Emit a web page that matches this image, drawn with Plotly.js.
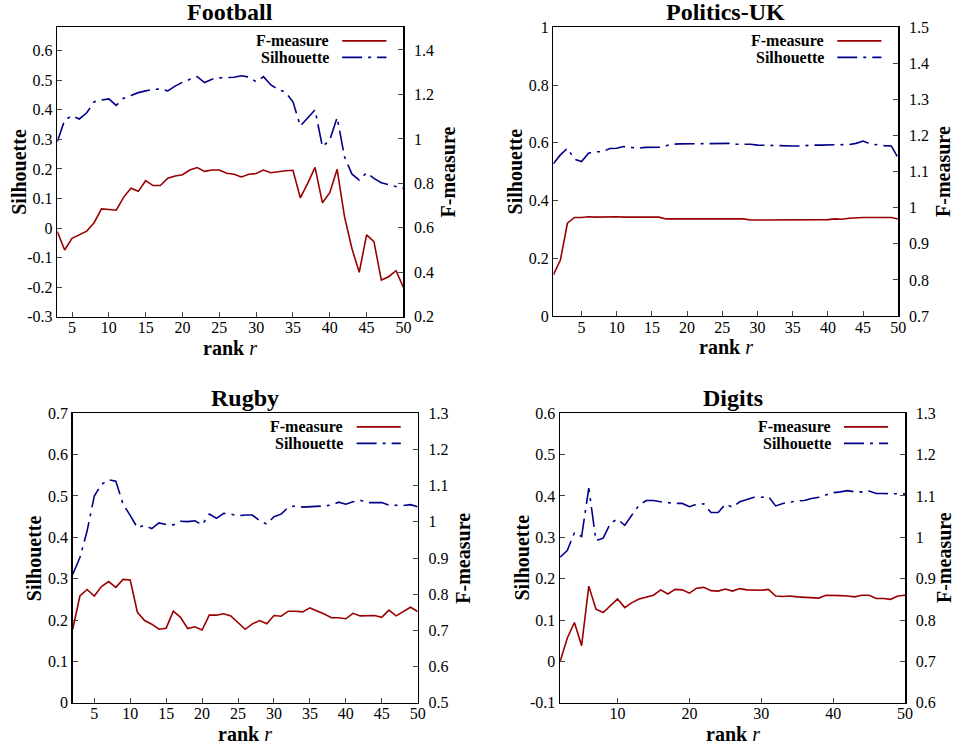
<!DOCTYPE html>
<html>
<head>
<meta charset="utf-8">
<script src="https://cdn.plot.ly/plotly-3.0.1.min.js"></script>
<style>html,body{margin:0;padding:0;background:#fff;}#chart{width:958px;height:744px;}</style>
</head>
<body>
<div id="chart"></div>
<script>
// ---------------- DATA ----------------
const panelTitles = ['Football', 'Politics-UK', 'Rugby', 'Digits'];
const seriesNames = ['F-measure', 'Silhouette'];
const axisTitles = {x: 'rank', xVar: 'r', left: 'Silhouette', right: 'F-measure'};

const footballRank = [3,4,5,6,7,8,9,10,11,12,13,14,15,16,17,18,19,20,21,22,23,24,25,26,27,28,29,30,31,32,33,34,35,36,37,38,39,40,41,42,43,44,45,46,47,48,49,50];
const footballF = [0.583,0.500,0.553,0.570,0.585,0.623,0.685,0.682,0.679,0.737,0.778,0.764,0.812,0.790,0.790,0.823,0.833,0.839,0.860,0.871,0.854,0.860,0.860,0.845,0.841,0.829,0.841,0.844,0.860,0.848,0.854,0.857,0.859,0.735,0.800,0.872,0.713,0.758,0.863,0.650,0.508,0.400,0.568,0.538,0.365,0.380,0.407,0.332];
const footballSil = [0.292,0.365,0.380,0.369,0.390,0.427,0.433,0.437,0.415,0.439,0.448,0.458,0.464,0.469,0.470,0.464,0.480,0.493,0.503,0.512,0.492,0.503,0.508,0.508,0.510,0.515,0.511,0.495,0.512,0.484,0.469,0.459,0.427,0.345,0.374,0.400,0.275,0.298,0.374,0.241,0.183,0.162,0.187,0.168,0.153,0.146,0.140,0.134];

const politicsRank = [1,2,3,4,5,6,7,8,9,10,11,12,13,14,15,16,17,18,19,20,21,22,23,24,25,26,27,28,29,30,31,32,33,34,35,36,37,38,39,40,41,42,43,44,45,46,47,48,49,50];
const politicsF = [0.814,0.855,0.957,0.973,0.973,0.975,0.974,0.975,0.975,0.975,0.974,0.974,0.974,0.974,0.974,0.974,0.969,0.969,0.969,0.969,0.969,0.969,0.969,0.969,0.969,0.969,0.969,0.969,0.966,0.966,0.968,0.967,0.968,0.968,0.968,0.967,0.968,0.968,0.967,0.967,0.969,0.968,0.971,0.973,0.973,0.973,0.973,0.973,0.973,0.969];
const politicsSil = [0.527,0.558,0.581,0.543,0.535,0.564,0.569,0.569,0.580,0.581,0.587,0.583,0.581,0.584,0.585,0.585,0.590,0.595,0.596,0.596,0.596,0.596,0.596,0.596,0.597,0.598,0.595,0.595,0.595,0.592,0.591,0.591,0.591,0.589,0.589,0.589,0.591,0.592,0.592,0.592,0.592,0.592,0.594,0.598,0.606,0.596,0.592,0.590,0.589,0.546];

const rugbyRank = [2,3,4,5,6,7,8,9,10,11,12,13,14,15,16,17,18,19,20,21,22,23,24,25,26,27,28,29,30,31,32,33,34,35,36,37,38,39,40,41,42,43,44,45,46,47,48,49,50];
const rugbyF = [0.703,0.795,0.813,0.795,0.821,0.835,0.819,0.841,0.839,0.750,0.727,0.717,0.703,0.706,0.753,0.736,0.705,0.710,0.701,0.742,0.742,0.746,0.740,0.721,0.703,0.718,0.727,0.718,0.741,0.739,0.753,0.753,0.751,0.762,0.754,0.745,0.735,0.735,0.732,0.747,0.740,0.741,0.741,0.736,0.756,0.740,0.752,0.764,0.752];
const rugbySil = [0.310,0.351,0.415,0.500,0.528,0.539,0.536,0.480,0.453,0.423,0.429,0.421,0.435,0.431,0.430,0.439,0.438,0.440,0.430,0.456,0.446,0.458,0.456,0.452,0.454,0.454,0.440,0.432,0.450,0.456,0.473,0.476,0.473,0.474,0.474,0.476,0.478,0.485,0.480,0.486,0.490,0.484,0.484,0.484,0.478,0.477,0.477,0.479,0.474];

const digitsRank = [2,3,4,5,6,7,8,9,10,11,12,13,14,15,16,17,18,19,20,21,22,23,24,25,26,27,28,29,30,31,32,33,34,35,36,37,38,39,40,41,42,43,44,45,46,47,48,49,50];
const digitsF = [0.699,0.756,0.794,0.738,0.882,0.826,0.818,0.834,0.851,0.830,0.842,0.851,0.856,0.860,0.873,0.863,0.874,0.873,0.865,0.877,0.879,0.871,0.870,0.875,0.870,0.876,0.873,0.873,0.872,0.874,0.858,0.857,0.858,0.856,0.855,0.853,0.853,0.860,0.860,0.859,0.858,0.856,0.860,0.860,0.852,0.852,0.850,0.858,0.860];
const digitsSil = [0.252,0.268,0.311,0.302,0.419,0.292,0.298,0.334,0.344,0.329,0.354,0.378,0.389,0.389,0.386,0.384,0.382,0.382,0.374,0.380,0.381,0.360,0.360,0.380,0.373,0.386,0.392,0.397,0.397,0.398,0.376,0.382,0.385,0.388,0.389,0.394,0.397,0.402,0.408,0.410,0.413,0.410,0.410,0.412,0.406,0.406,0.406,0.406,0.405];

// tick labels
const xTicks5 = [5,10,15,20,25,30,35,40,45,50];
const xTicks10 = [10,20,30,40,50];
const footballYTicks = [-0.3,-0.2,-0.1,0,0.1,0.2,0.3,0.4,0.5,0.6];
const footballYLabels = ['-0.3','-0.2','-0.1','0','0.1','0.2','0.3','0.4','0.5','0.6'];
const footballY2Ticks = [0.2,0.4,0.6,0.8,1.0,1.2,1.4];
const footballY2Labels = ['0.2','0.4','0.6','0.8','1','1.2','1.4'];
const politicsYTicks = [0,0.2,0.4,0.6,0.8,1.0];
const politicsYLabels = ['0','0.2','0.4','0.6','0.8','1'];
const politicsY2Ticks = [0.7,0.8,0.9,1.0,1.1,1.2,1.3,1.4,1.5];
const politicsY2Labels = ['0.7','0.8','0.9','1','1.1','1.2','1.3','1.4','1.5'];
const rugbyYTicks = [0,0.1,0.2,0.3,0.4,0.5,0.6,0.7];
const rugbyYLabels = ['0','0.1','0.2','0.3','0.4','0.5','0.6','0.7'];
const rugbyY2Ticks = [0.5,0.6,0.7,0.8,0.9,1.0,1.1,1.2,1.3];
const rugbyY2Labels = ['0.5','0.6','0.7','0.8','0.9','1','1.1','1.2','1.3'];
const digitsYTicks = [-0.1,0,0.1,0.2,0.3,0.4,0.5,0.6];
const digitsYLabels = ['-0.1','0','0.1','0.2','0.3','0.4','0.5','0.6'];
const digitsY2Ticks = [0.6,0.7,0.8,0.9,1.0,1.1,1.2,1.3];
const digitsY2Labels = ['0.6','0.7','0.8','0.9','1','1.1','1.2','1.3'];

// ---------------- STYLE ----------------
const FONT = 'Liberation Serif, Times New Roman, serif';
const RED = '#990000';
const BLUE = '#00008b';
const DASHDOT = '20px,6px,3px,6px';
const LW = 1.6;

const panels = [
  {title: panelTitles[0], rank: footballRank, f: footballF, s: footballSil,
   xd: [0.0598, 0.4211], yd: [0.5743, 0.9633], xr: [3, 50], yr: [-0.3, 0.679], y2r: [0.2, 1.502],
   xt: xTicks5, yt: footballYTicks, yl: footballYLabels, y2t: footballY2Ticks, y2l: footballY2Labels, rShift: 45},
  {title: panelTitles[1], rank: politicsRank, f: politicsF, s: politicsSil,
   xd: [0.5776, 0.9377], yd: [0.5753, 0.9633], xr: [1, 50], yr: [0, 1], y2r: [0.7, 1.5],
   xt: xTicks5, yt: politicsYTicks, yl: politicsYLabels, y2t: politicsY2Ticks, y2l: politicsY2Labels, rShift: 44},
  {title: panelTitles[2], rank: rugbyRank, f: rugbyF, s: rugbySil,
   xd: [0.0759, 0.4360], yd: [0.0555, 0.4445], xr: [2, 50], yr: [0, 0.7], y2r: [0.5, 1.3],
   xt: xTicks5, yt: rugbyYTicks, yl: rugbyYLabels, y2t: rugbyY2Ticks, y2l: rugbyY2Labels, rShift: 45},
  {title: panelTitles[3], rank: digitsRank, f: digitsF, s: digitsSil,
   xd: [0.5846, 0.9447], yd: [0.0555, 0.4445], xr: [2, 50], yr: [-0.1, 0.6], y2r: [0.6, 1.3],
   xt: xTicks10, yt: digitsYTicks, yl: digitsYLabels, y2t: digitsY2Ticks, y2l: digitsY2Labels, rShift: 39}
];

const traces = [];
const layout = {
  width: 958, height: 744,
  margin: {l: 0, r: 0, t: 0, b: 0},
  paper_bgcolor: '#fff', plot_bgcolor: '#fff',
  font: {family: FONT, size: 16, color: '#000'},
  showlegend: false,
  annotations: [], shapes: []
};

const tickFont = {family: FONT, size: 16, color: '#000'};
const titleFont = {family: FONT, size: 20, color: '#000'};

panels.forEach((p, i) => {
  const n = i + 1;
  const xid = n === 1 ? 'x' : 'x' + n;
  const yid = n === 1 ? 'y' : 'y' + (2 * n - 1);
  const y2id = 'y' + (2 * n);
  const xkey = n === 1 ? 'xaxis' : 'xaxis' + n;
  const ykey = n === 1 ? 'yaxis' : 'yaxis' + (2 * n - 1);
  const y2key = 'yaxis' + (2 * n);
  const xdom = xid + ' domain', ydom = yid + ' domain';

  traces.push({x: p.rank, y: p.s, xaxis: xid, yaxis: yid, type: 'scatter', mode: 'lines',
    name: seriesNames[1], line: {color: BLUE, width: LW, dash: DASHDOT}, hoverinfo: 'skip'});
  traces.push({x: p.rank, y: p.f, xaxis: xid, yaxis: y2id, type: 'scatter', mode: 'lines',
    name: seriesNames[0], line: {color: RED, width: LW}, hoverinfo: 'skip'});

  layout[xkey] = {
    domain: p.xd, anchor: yid, range: p.xr, showgrid: false, zeroline: false,
    showline: true, mirror: true, linecolor: '#000', linewidth: 1.5,
    ticks: 'inside', ticklen: 5, tickwidth: 1, tickcolor: '#444',
    tickmode: 'array', tickvals: p.xt, tickfont: tickFont, ticklabelstandoff: -4
  };
  layout[ykey] = {
    domain: p.yd, anchor: xid, range: p.yr, showgrid: false, zeroline: false,
    showline: true, linecolor: '#000', linewidth: 1.5,
    ticks: 'inside', ticklen: 5, tickwidth: 1, tickcolor: '#444',
    tickmode: 'array', tickvals: p.yt, ticktext: p.yl, tickfont: tickFont
  };
  layout[y2key] = {
    domain: p.yd, anchor: xid, overlaying: yid, side: 'right', range: p.y2r,
    showgrid: false, zeroline: false,
    showline: true, linecolor: '#000', linewidth: 1.5,
    ticks: 'inside', ticklen: 5, tickwidth: 1, tickcolor: '#444',
    tickmode: 'array', tickvals: p.y2t, ticktext: p.y2l, tickfont: tickFont,
    ticklabelstandoff: 6
  };

  // axis titles (placed at fixed pixel offsets from the frame, as gnuplot does)
  layout.annotations.push({
    text: '<b>' + axisTitles.x + '</b> <i>' + axisTitles.xVar + '</i>', xref: xdom, yref: ydom,
    x: 0.5, y: 0, xanchor: 'center', yanchor: 'middle', yshift: -31, showarrow: false, font: titleFont
  });
  layout.annotations.push({
    text: '<b>' + axisTitles.left + '</b>', xref: xdom, yref: ydom, textangle: -90,
    x: 0, y: 0.5, xanchor: 'center', yanchor: 'middle', xshift: -38.5, showarrow: false, font: titleFont
  });
  layout.annotations.push({
    text: '<b>' + axisTitles.right + '</b>', xref: xdom, yref: ydom, textangle: -90,
    x: 1, y: 0.5, xanchor: 'center', yanchor: 'middle', xshift: p.rShift, showarrow: false, font: titleFont
  });

  // subplot title
  layout.annotations.push({
    text: '<b>' + p.title + '</b>', xref: xdom, yref: ydom,
    x: 0.5, y: 1, xanchor: 'center', yanchor: 'bottom', yshift: 0, showarrow: false,
    font: {family: FONT, size: 24, color: '#000'}
  });
  // key (legend) text
  [[seriesNames[0], 0.953], [seriesNames[1], 0.896]].forEach(([name, yy]) => {
    layout.annotations.push({
      text: '<b>' + name + '</b>', xref: xdom, yref: ydom,
      x: 0.79, y: yy, xanchor: 'right', yanchor: 'middle', showarrow: false,
      font: {family: FONT, size: 16, color: '#000'}
    });
  });
  // key samples
  layout.shapes.push({type: 'line', xref: xdom, yref: ydom,
    x0: 0.823, x1: 0.951, y0: 0.953, y1: 0.953, line: {color: RED, width: LW}});
  layout.shapes.push({type: 'line', xref: xdom, yref: ydom,
    x0: 0.823, x1: 0.951, y0: 0.896, y1: 0.896, line: {color: BLUE, width: LW, dash: DASHDOT}});
});

Plotly.newPlot('chart', traces, layout, {displayModeBar: false, staticPlot: true});
</script>
</body>
</html>
